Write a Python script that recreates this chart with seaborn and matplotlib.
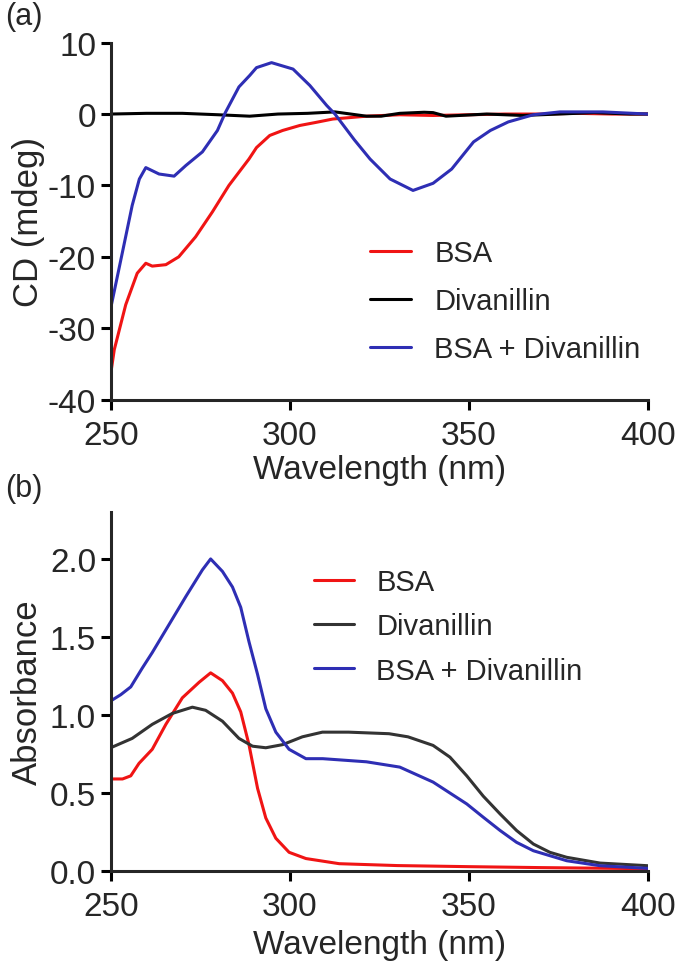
import matplotlib
matplotlib.use("Agg")
import matplotlib.pyplot as plt
import seaborn as sns

# --- (a) CD spectra ---
wl_bsa_cd = [250, 251, 254.2, 257.4, 259.8, 261.6, 265.4, 269, 273.7, 278.4, 283, 288.6, 290.7,
             294.4, 298, 302.8, 307, 312, 321.4, 330.7, 340, 350, 360, 370, 380, 390, 400]
cd_bsa = [-36.4, -33, -26.7, -22.3, -20.9, -21.3, -21.1, -20, -17.2, -13.7, -10, -6.3, -4.7,
          -3.0, -2.3, -1.6, -1.2, -0.7, -0.3, -0.1, -0.2, -0.1, 0, 0, 0.1, 0, 0]

wl_div_cd = [250, 260, 270, 280, 288.8, 296.7, 305, 312.6, 321.4, 325.5, 330.7, 337.5, 340,
             343.6, 355, 365, 375, 385, 395, 400]
cd_div = [0, 0.1, 0.1, -0.1, -0.3, 0, 0.1, 0.3, -0.3, -0.3, 0.1, 0.25, 0.2,
          -0.3, 0, -0.2, 0, 0.2, 0, 0]

wl_mix_cd = [250, 253.3, 256, 258, 259.8, 263.5, 267.7, 271, 275.6, 279.8, 282, 285.8, 288.8,
             290.7, 294.9, 300.9, 305.6, 310.3, 312.6, 318, 322.4, 328, 334.4, 340, 345.2,
             351.3, 356, 361, 368, 375.4, 387.4, 400]
cd_mix = [-27.2, -19.3, -12.8, -9.1, -7.5, -8.4, -8.7, -7.2, -5.3, -2.3, 0.2, 3.8, 5.4,
          6.5, 7.2, 6.3, 4.0, 1.2, 0, -3.6, -6.3, -9.1, -10.7, -9.7, -7.7,
          -3.9, -2.3, -1.1, -0.1, 0.3, 0.3, 0]

# --- (b) UV-vis absorbance ---
wl_bsa_abs = [250, 253.3, 255.6, 257.9, 261.6, 265.4, 270, 274.7, 277.9, 281.2, 284, 286.3,
              288.6, 291, 293.3, 296.1, 299.8, 304.5, 313.8, 330, 350, 370, 400]
abs_bsa = [0.59, 0.59, 0.61, 0.69, 0.78, 0.94, 1.11, 1.21, 1.27, 1.22, 1.14, 1.02,
           0.81, 0.53, 0.34, 0.21, 0.12, 0.08, 0.047, 0.035, 0.028, 0.022, 0.015]

wl_div_abs = [250, 256, 261.6, 267.2, 272.8, 276.5, 281.2, 285.8, 289.6, 293.3, 298, 303.5,
              309.1, 316.4, 327.7, 333, 340, 344.7, 349.4, 354, 358.7, 363.3, 368, 372.6,
              377.3, 386.6, 400]
abs_div = [0.79, 0.85, 0.94, 1.01, 1.05, 1.03, 0.96, 0.85, 0.80, 0.79, 0.81, 0.86,
           0.89, 0.89, 0.88, 0.86, 0.805, 0.73, 0.61, 0.48, 0.366, 0.26, 0.173, 0.12,
           0.088, 0.051, 0.034]

wl_mix_abs = [250, 252.8, 255.6, 258.8, 261.6, 266.3, 271, 275.6, 277.9, 281.2, 284, 286.3,
              288.6, 291, 293.3, 296.1, 299.8, 304.5, 309.2, 321.4, 330.7, 340, 349.4,
              354, 358.7, 363.3, 368, 377.3, 386.6, 400]
abs_mix = [1.09, 1.13, 1.18, 1.30, 1.40, 1.58, 1.76, 1.93, 2.0, 1.92, 1.82, 1.69,
           1.47, 1.26, 1.04, 0.89, 0.78, 0.72, 0.72, 0.70, 0.666, 0.57, 0.43,
           0.345, 0.26, 0.184, 0.13, 0.066, 0.034, 0.017]

labels = ["BSA", "Divanillin", "BSA + Divanillin"]
red, blue = "#f01414", "#2e2eb4"

sns.set_theme(style="ticks")
plt.rcParams["font.family"] = ["Liberation Sans", "DejaVu Sans"]
plt.rcParams["axes.linewidth"] = 2.2
plt.rcParams["axes.unicode_minus"] = False

fig = plt.figure(figsize=(6.75, 9.7), dpi=100)
ax1 = fig.add_axes([0.164, 0.587, 0.796, 0.368])
ax2 = fig.add_axes([0.164, 0.101, 0.796, 0.370])

lw = 2.2
sns.lineplot(x=wl_bsa_cd, y=cd_bsa, ax=ax1, color=red, lw=lw, label=labels[0])
sns.lineplot(x=wl_div_cd, y=cd_div, ax=ax1, color="black", lw=lw, label=labels[1])
sns.lineplot(x=wl_mix_cd, y=cd_mix, ax=ax1, color=blue, lw=lw, label=labels[2])

sns.lineplot(x=wl_bsa_abs, y=abs_bsa, ax=ax2, color=red, lw=lw, label=labels[0])
sns.lineplot(x=wl_div_abs, y=abs_div, ax=ax2, color="#333333", lw=lw, label=labels[1])
sns.lineplot(x=wl_mix_abs, y=abs_mix, ax=ax2, color=blue, lw=lw, label=labels[2])

ax1.set_xlim(250, 400)
ax1.set_ylim(-40, 10)
ax1.set_yticks([10, 0, -10, -20, -30, -40])
ax1.set_ylabel("CD (mdeg)", fontsize=25, labelpad=2)

ax2.set_xlim(250, 400)
ax2.set_ylim(0, 2.3)
ax2.set_yticks([0.0, 0.5, 1.0, 1.5, 2.0])
ax2.set_yticklabels(["0.0", "0.5", "1.0", "1.5", "2.0"])
ax2.set_ylabel("Absorbance", fontsize=25, labelpad=4)

for ax in (ax1, ax2):
    ax.set_xticks([250, 300, 350, 400])
    ax.tick_params(labelsize=24, width=2.2, length=7.5, color="black")
    ax.tick_params(axis="x", pad=7)
    ax.tick_params(axis="y", pad=3)
    sns.despine(ax=ax)

ax1.set_xlabel("Wavelength (nm)", fontsize=24, labelpad=2)
ax2.set_xlabel("Wavelength (nm)", fontsize=24, labelpad=5)

ax1.legend(loc="upper left", bbox_to_anchor=(0.456, 0.49), frameon=False, fontsize=21,
           handlelength=1.4, handletextpad=0.79, labelspacing=0.68, borderpad=0)
ax2.legend(loc="upper left", bbox_to_anchor=(0.352, 0.885), frameon=False, fontsize=21,
           handlelength=1.37, handletextpad=0.75, labelspacing=0.56, borderpad=0)

fig.text(0.008, 0.998, "(a)", fontsize=22, va="top", ha="left")
fig.text(0.008, 0.511, "(b)", fontsize=22, va="top", ha="left")

fig.savefig("out.png", dpi=100)
